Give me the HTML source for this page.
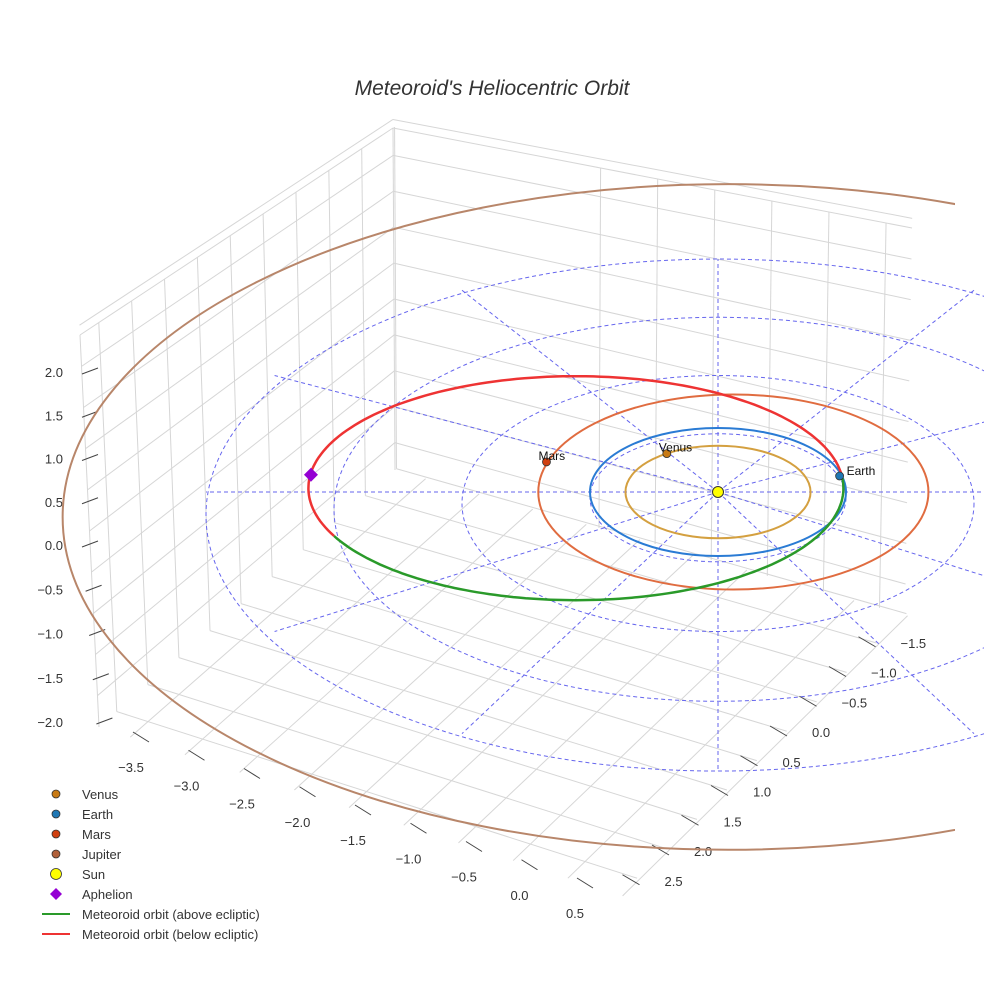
<!DOCTYPE html>
<html><head><meta charset="utf-8"><style>
body{margin:0;background:#fff}
svg{display:block;font-family:"Liberation Sans",sans-serif}
</style></head><body>
<svg id="c" width="984" height="984" viewBox="0 0 984 984">
<text x="492" y="95" text-anchor="middle" font-size="21" font-style="italic" fill="#333">Meteoroid's Heliocentric Orbit</text>
<g id="grid"></g>
<g id="ticks"></g>
<g id="ecl"></g>
<g id="orb"></g>
<g id="pts"></g>
<g id="leg"></g>
</svg>
<script>
const zTicks=["2.0","1.5","1.0","0.5","0.0","−0.5","−1.0","−1.5","−2.0"];
const zVals=[2,1.5,1,0.5,0,-0.5,-1,-1.5,-2];
const xTicks=["−3.5","−3.0","−2.5","−2.0","−1.5","−1.0","−0.5","0.0","0.5"];
const xVals=[-3.5,-3,-2.5,-2,-1.5,-1,-0.5,0,0.5];
const yTicks=["−1.5","−1.0","−0.5","0.0","0.5","1.0","1.5","2.0","2.5"];
const yVals=[-1.5,-1,-0.5,0,0.5,1,1.5,2,2.5];
const orbitNames=["Venus","Earth","Mars","Jupiter"];
const orbitA=[0.723,1.0,1.524,5.2];
const orbitCx=[0,0,0.12,0.08];
const orbitCy=[0,0,0,0.39];
const orbitColors=["#d4a040","#2a7bd4","#e06c40","#b8866a"];
const planetX=[-0.4,0.95,-1.34];
const planetY=[-0.6,-0.25,-0.47];
const planetColors=["#c87a14","#1f77b4","#d04010"];
const ringR=[1,2,3,4];
const meteorA=2.09, meteorB=1.75, meteorCx=-1.11, meteorCy=-0.06;
const splitT=[-0.12,2.7];
const aphelion=[-3.18,-0.27];
const NS="http://www.w3.org/2000/svg";
const SX=128, SY=64, OX=718, OY=492;
const px=x=>OX+SX*x, py=y=>OY+SY*y;
function mk(p,t,a){const e=document.createElementNS(NS,t);for(const k in a)e.setAttribute(k,a[k]);p.appendChild(e);return e;}
const G=id=>document.getElementById(id);
// box grid
const L=[99,727],F=[620,895],R=[905,615],B=[395,470],TL=[80,335],TB=[393,128],TR=[912,228];
const lerp=(a,b,t)=>[a[0]+(b[0]-a[0])*t,a[1]+(b[1]-a[1])*t];
function gl(a,b){const e=mk(G('grid'),'line',{x1:a[0],y1:a[1],x2:b[0],y2:b[1],stroke:'#d6d6d6','stroke-width':1});
}
for(let i=0;i<=9;i++){const t=0.06+i*0.105;gl(lerp(L,B,t),lerp(TL,TB,t));}
for(let i=0;i<=5;i++){const t=0.4+i*0.11;gl(lerp(B,R,t),lerp(TB,TR,t));}
for(let i=0;i<=9;i++){const t=0.08+i*0.105;gl(lerp(L,TL,t),lerp(B,TB,t));gl(lerp(B,TB,t),lerp(R,TR,t));}
for(let i=0;i<=9;i++){const t=0.06+i*0.105;gl(lerp(L,F,t),lerp(B,R,t));gl(lerp(F,R,t),lerp(L,B,t));}
gl(TL,TB);gl(TB,TR);gl(L,TL);gl(B,TB);
// ticks
const T=G('ticks');
zVals.forEach((v,i)=>{const y=545-v*86.5-(v<0?v*2:0);
 const l=mk(T,'line',{x1:82+(v<0?-8*v:0)*0.9,y1:y-2+4,x2:98+(v<0?-8*v:0)*0.9,y2:y-8+4,stroke:'#444'});
 
 const t=mk(T,'text',{x:63,y:y+5,'text-anchor':'end','font-size':13,fill:'#333'});t.textContent=zTicks[i];
 });
xVals.forEach((v,i)=>{const x=575+(v-0.5)*111,y=913+(v-0.5)*36.5;
 const l=mk(T,'line',{x1:x+2,y1:y-35,x2:x+18,y2:y-25,stroke:'#444'});
 
 const t=mk(T,'text',{x:x,y:y+5,'text-anchor':'middle','font-size':13,fill:'#333'});t.textContent=xTicks[i];
 });
yVals.forEach((v,i)=>{const x=812-v*59,y=732+v*59.5;
 const l=mk(T,'line',{x1:x-42,y1:y-6,x2:x-25,y2:y+4,stroke:'#444'});
 
 const t=mk(T,'text',{x:x,y:y+5,'text-anchor':'start','font-size':13,fill:'#333'});t.textContent=yTicks[i];
 });
// ecliptic grid
const E=G('ecl');
ringR.forEach(r=>{const e=mk(E,'ellipse',{cx:OX,cy:OY+SY*r*0.09,rx:SX*r,ry:SY*r,fill:'none',stroke:'#6666ee','stroke-width':1,'stroke-dasharray':'4 3'});
 });
const RM=Math.max(...ringR);
for(let k=0;k<12;k++){const a=k*Math.PI/6;const e=mk(E,'line',{x1:OX,y1:OY,x2:OX+SX*RM*Math.cos(a),y2:OY+SY*RM*(0.09*Math.abs(Math.sin(a))+Math.sin(a)),stroke:'#6666ee','stroke-width':1,'stroke-dasharray':'4 3'});
 }
// orbits
const O=G('orb');
mk(document.getElementById('c'),'defs',{}).innerHTML='<clipPath id="cp"><rect x="0" y="0" width="955" height="984"/></clipPath>';
orbitA.forEach((a,i)=>{const e=mk(O,'ellipse',{cx:px(orbitCx[i]),cy:py(orbitCy[i]),rx:SX*a,ry:SY*a,fill:'none',stroke:orbitColors[i],'stroke-width':2,'clip-path':'url(#cp)'});
 });
function arc(t0,t1){let d='';for(let k=0;k<=120;k++){const t=t0+(t1-t0)*k/120;d+=(k?'L':'M')+px(meteorCx+meteorA*Math.cos(t)).toFixed(1)+','+py(meteorCy+meteorB*Math.sin(t)).toFixed(1);}return d;}
const red=mk(O,'path',{d:arc(splitT[1],2*Math.PI+splitT[0]),fill:'none',stroke:'#ee3333','stroke-width':2.5});

const grn=mk(O,'path',{d:arc(splitT[0],splitT[1]),fill:'none',stroke:'#2a9a2a','stroke-width':2.5});

// points
const P=G('pts');
planetX.forEach((x,i)=>{const c=mk(P,'circle',{cx:px(x),cy:py(planetY[i]),r:4,fill:planetColors[i],stroke:'#333','stroke-width':0.8});
 
 const t=mk(P,'text',{x:px(x)+(i==1?7:-8),y:py(planetY[i])+(i==1?-1:-2),'font-size':12,fill:'#111'});t.textContent=orbitNames[i];
 });
const sun=mk(P,'circle',{cx:OX,cy:OY,r:5.5,fill:'#ffff00',stroke:'#333','stroke-width':1});

const ap=mk(P,'path',{d:`M${px(aphelion[0])},${py(aphelion[1])-7}l7,7l-7,7l-7,-7z`,fill:'#9400d3'});

// legend
const LG=G('leg');
const legNames=["Venus","Earth","Mars","Jupiter","Sun","Aphelion","Meteoroid orbit (above ecliptic)","Meteoroid orbit (below ecliptic)"];
const legColors=["#c87a14","#1f77b4","#d04010","#b0603a","#ffff00","#9400d3","#2a9a2a","#ee3333"];
legNames.forEach((n,i)=>{const y=794+i*20;let m;
 if(i<5)m=mk(LG,'circle',{cx:56,cy:y,r:i==4?5.5:4,fill:legColors[i],stroke:'#333','stroke-width':0.8});
 else if(i==5)m=mk(LG,'path',{d:`M56,${y-6}l6,6l-6,6l-6,-6z`,fill:legColors[i]});
 else m=mk(LG,'line',{x1:42,y1:y,x2:70,y2:y,stroke:legColors[i],'stroke-width':2});
 
 const t=mk(LG,'text',{x:82,y:y+5,'font-size':13,fill:'#333'});t.textContent=n;
 });
</script>
</body></html>
